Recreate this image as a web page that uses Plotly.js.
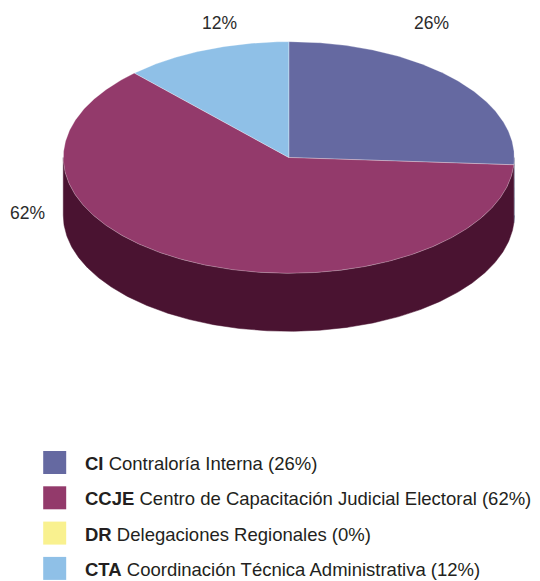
<!DOCTYPE html>
<html>
<head>
<meta charset="utf-8">
<script src="https://cdn.plot.ly/plotly-3.0.1.min.js"></script>
<style>body{margin:0;background:#fff}</style>
</head>
<body>
<div id="chart" style="width:540px;height:581px"></div>
<script>
// values
const codes = ['CI', 'CCJE', 'DR', 'CTA'];
const names = ['Contraloría Interna', 'Centro de Capacitación Judicial Electoral',
               'Delegaciones Regionales', 'Coordinación Técnica Administrativa'];
const shares = [26, 62, 0, 12];

const colors = ['#6569a1', '#933a6b', '#f9f18f', '#8fc0e7'];
const sideColors = ['#33355a', '#4a1331', '#7d7848', '#486074'];

// where the percent labels sit (the source had them placed by hand)
const labelSpots = {CI: [431, 23.4], CCJE: [27.8, 213.3], CTA: [219.7, 23.4]};

// pie geometry in pixels (axes below are set 1 unit = 1 px)
const cx = 288.8, cy = 157.5, rx = 225.5, ry = 115.8, depth = 58;
const FONT = 'Liberation Sans, Arial, sans-serif';

function pt(deg, dy) {
    const a = deg * Math.PI / 180;
    return [cx + rx * Math.cos(a), cy - ry * Math.sin(a) + (dy || 0)];
}

// points along the rim between two angles
function arc(from, to, dy) {
    const n = Math.max(2, Math.ceil(Math.abs(to - from) / 0.5));
    const out = [];
    for (let i = 0; i <= n; i++) out.push(pt(from + (to - from) * i / n, dy));
    return out;
}

function poly(ring, fill, edge, w) {
    return {
        type: 'scatter', mode: 'lines',
        x: ring.map(p => p[0]), y: ring.map(p => p[1]),
        fill: 'toself', fillcolor: fill,
        line: {color: edge, width: w},
        hoverinfo: 'skip', showlegend: false
    };
}

const total = shares.reduce((a, b) => a + b, 0);
const sides = [], tops = [];
let cum = 0;
shares.forEach(function(v, i) {
    const hi = 90 - cum / total * 360;
    cum += v;
    const lo = 90 - cum / total * 360;
    if (v <= 0) return;

    // top face of the slice, clockwise from 12 o'clock
    const face = [[cx, cy]].concat(arc(hi, lo)).concat([[cx, cy]]);
    tops.push(poly(face, colors[i], 'rgba(255,255,255,0.35)', 0.8));

    // front wall, only the part facing the viewer
    [-360, 0, 360].forEach(function(k) {
        const a = Math.max(lo, k - 180), b = Math.min(hi, k);
        if (b > a) {
            const wall = arc(b, a).concat(arc(a, b, depth));
            sides.push(poly(wall, sideColors[i], sideColors[i], 0.5));
        }
    });
});

// legend drawn by hand: squares + texts
const rowY = codes.map((c, i) => 462.5 + i * 35.3);
const legendMarks = {
    type: 'scatter', mode: 'markers',
    x: codes.map(() => 54.7), y: rowY,
    marker: {symbol: 'square', size: 23, color: colors, line: {width: 0}},
    hoverinfo: 'skip', showlegend: false
};

const annotations = [];
codes.forEach(function(c, i) {
    annotations.push({
        xref: 'x', yref: 'y', x: 84, y: rowY[i] + 1,
        xanchor: 'left', yanchor: 'middle', showarrow: false, borderpad: 0,
        text: '<b>' + c + '</b> ' + names[i] + ' (' + shares[i] + '%)',
        font: {family: FONT, size: 18.5, color: '#231f20'}
    });
    if (labelSpots[c]) {
        annotations.push({
            xref: 'x', yref: 'y', x: labelSpots[c][0], y: labelSpots[c][1],
            xanchor: 'center', yanchor: 'middle', showarrow: false,
            text: shares[i] + '%',
            font: {family: FONT, size: 17.5, color: '#2b2b2b'}
        });
    }
});

const layout = {
    width: 540, height: 581,
    margin: {l: 0, r: 0, t: 0, b: 0},
    paper_bgcolor: '#fff', plot_bgcolor: '#fff',
    xaxis: {range: [0, 540], visible: false, fixedrange: true},
    yaxis: {range: [581, 0], visible: false, fixedrange: true},
    showlegend: false,
    annotations: annotations
};

Plotly.newPlot('chart', sides.concat(tops).concat([legendMarks]), layout,
               {staticPlot: true, displayModeBar: false});
</script>
</body>
</html>
